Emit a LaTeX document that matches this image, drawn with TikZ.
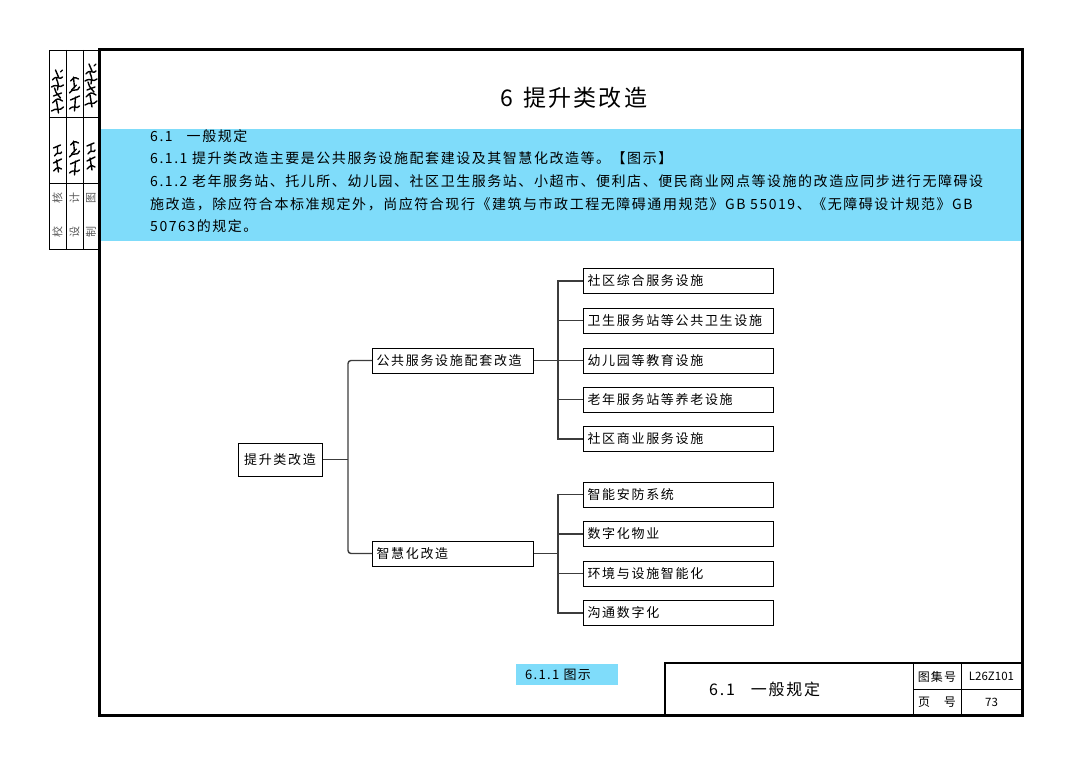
\documentclass[tikz,border=0pt]{standalone}
\usepackage{fontspec}
\setmainfont{Noto Sans CJK SC}
\newfontfamily\cjkband[LetterSpace=11]{Noto Sans CJK SC}
\newfontfamily\cjkbox[LetterSpace=13]{Noto Sans CJK SC}
\newfontfamily\cjktitle[LetterSpace=9]{Noto Sans CJK SC}
\newfontfamily\cjksmall[LetterSpace=10]{Noto Sans CJK SC}
\definecolor{bandblue}{RGB}{127,220,250}
\definecolor{linegray}{RGB}{60,60,60}
\definecolor{labelgray}{RGB}{90,90,90}
\tikzset{
  bandtext/.style={anchor=west, inner sep=0pt, text=black, font=\cjkband\fontsize{14}{16}\selectfont},
  leaf/.style={draw, line width=1pt, anchor=west, minimum width=190pt, minimum height=25pt,
    text width=182pt, align=left, inner xsep=4pt, inner ysep=0pt, font=\cjkbox\fontsize{13}{15}\selectfont},
  midbox/.style={draw, line width=1pt, anchor=west, minimum width=161pt, minimum height=25pt,
    text width=153pt, align=left, inner xsep=4pt, inner ysep=0pt, font=\cjkbox\fontsize{13}{15}\selectfont},
  rootbox/.style={draw, line width=1pt, minimum width=84pt, minimum height=33pt, inner sep=0pt,
    font=\cjkbox\fontsize{13}{15}\selectfont},
  conn/.style={draw=linegray, line width=1.4pt},
  gridline/.style={draw=black, line width=0.8pt},
  sidelabel/.style={rotate=90, inner sep=0pt, text=labelgray, font=\cjksmall\fontsize{11}{12}\selectfont},
  tbtext/.style={inner sep=0pt, font=\cjksmall\fontsize{12}{14}\selectfont},
  sig/.style={draw=black, line width=1.4pt, line cap=round, line join=round},
  sigA/.pic={
    \draw[sig] (-6,19) .. controls (-1,15) and (2,20) .. (6,15) (1,21) -- (-1,9)
      (-5,11) .. controls (0,6) .. (5,9) (-4,4) -- (4,1) (3,6) .. controls (-2,0) .. (-3,-4)
      (-6,-5) .. controls (0,-9) and (2,-3) .. (6,-7) (0,-2) .. controls (1,-8) .. (-1,-13)
      (-5,-12) .. controls (-1,-18) and (3,-11) .. (5,-15) (1,-15) -- (-2,-22) (3,-20) -- (5,-22);
  },
  sigB/.pic={
    \draw[sig] (-5,15) .. controls (0,10) and (2,16) .. (5,12) (0,17) -- (1,3) (-4,6) -- (5,2)
      (-5,-1) .. controls (-1,-7) and (3,-1) .. (5,-7) (-3,-4) -- (2,-9) (0,-6) -- (-1,-17)
      (-4,-13) .. controls (0,-17) .. (4,-15);
  },
  sigC/.pic={
    \draw[sig] (-4,11) .. controls (0,7) .. (4,9) (1,12) -- (-1,0) (-4,3) -- (4,-1)
      (-3,-4) .. controls (1,-10) and (3,-4) .. (4,-8) (0,-7) -- (0,-14) (-4,-12) -- (3,-15);
  }
}
\begin{document}
\begin{tikzpicture}[x=1pt,y=-1pt]
\useasboundingbox (0,0) rectangle (1080,765);
\fill[white] (0,0) rectangle (1080,765);

% blue band
\fill[bandblue] (100,129) rectangle (1021,241);

% left sign-off strip
\draw[gridline] (49,50) rectangle (99,249);
\draw[gridline] (66,50) -- (66,249) (83,50) -- (83,249);
\draw[gridline] (49,117) -- (99,117) (49,183) -- (99,183);
\pic at (57.5,92) {sigA};
\pic at (74.5,94) {sigB};
\pic at (91,86) {sigA};
\pic at (57.5,160) {sigC};
\pic at (74.5,158) {sigB};
\pic at (91,158) {sigC};
\node[sidelabel] (s1a) at (57.5,232) {校};
\node[sidelabel] (s1b) at (57.5,198) {核};
\node[sidelabel] (s2a) at (74.5,232) {设};
\node[sidelabel] (s2b) at (74.5,198) {计};
\node[sidelabel] (s3a) at (91,232) {制};
\node[sidelabel] (s3b) at (91,198) {图};

% main frame
\draw[line width=3pt] (99.5,49.5) rectangle (1022,715);

% title
\node[inner sep=0pt, font=\cjktitle\fontsize{23}{26}\selectfont] (title) at (574,98) {6\hspace{10pt}提升类改造};

% band text
\node[bandtext] (t1) at (150,136) {6.1\hspace{14pt}一般规定};
\node[bandtext] (t2) at (150,158) {6.1.1 提升类改造主要是公共服务设施配套建设及其智慧化改造等。【图示】};
\node[bandtext] (t3) at (150,181) {6.1.2 老年服务站、托儿所、幼儿园、社区卫生服务站、小超市、便利店、便民商业网点等设施的改造应同步进行无障碍设};
\node[bandtext] (t4) at (150,204) {施改造，除应符合本标准规定外，尚应符合现行《建筑与市政工程无障碍通用规范》GB 55019、《无障碍设计规范》GB};
\node[bandtext] (t5) at (150,226) {50763的规定。};

% tree
\node[rootbox] (root) at (280,459.5) {提升类改造};
\node[midbox] (m1) at (372,360.5) {公共服务设施配套改造};
\node[midbox] (m2) at (372,553.5) {智慧化改造};

\node[leaf] (a1) at (583,281) {社区综合服务设施};
\node[leaf] (a2) at (583,320.5) {卫生服务站等公共卫生设施};
\node[leaf] (a3) at (583,360.5) {幼儿园等教育设施};
\node[leaf] (a4) at (583,399.5) {老年服务站等养老设施};
\node[leaf] (a5) at (583,439) {社区商业服务设施};

\node[leaf] (b1) at (583,494.5) {智能安防系统};
\node[leaf] (b2) at (583,534) {数字化物业};
\node[leaf] (b3) at (583,573.5) {环境与设施智能化};
\node[leaf] (b4) at (583,613) {沟通数字化};

\coordinate (bus0) at (348,0);
\coordinate (bus1) at (558,0);

\draw[conn] (root.east) -- (root.east -| bus0);
\draw[conn, rounded corners=3pt] (m1.west) -- (m1.west -| bus0) -- (m2.west -| bus0) -- (m2.west);

\draw[conn] (m1.east) -- (m1.east -| bus1);
\draw[conn] (a1.west) -- (a1.west -| bus1) -- (a5.west -| bus1) -- (a5.west);
\foreach \n in {a2,a3,a4} \draw[conn] (\n.west) -- (\n.west -| bus1);

\draw[conn] (m2.east) -- (m2.east -| bus1);
\draw[conn] (b1.west) -- (b1.west -| bus1) -- (b4.west -| bus1) -- (b4.west);
\foreach \n in {b2,b3} \draw[conn] (\n.west) -- (\n.west -| bus1);

% figure caption
\node[fill=bandblue, anchor=west, minimum width=102pt, minimum height=21pt, inner xsep=9pt, inner ysep=0pt,
  text width=84pt, align=left, font=\cjksmall\fontsize{13}{15}\selectfont] (cap) at (516,674.5) {6.1.1 图示};

% title block
\draw[line width=1.4pt] (665,715) -- (665,663) -- (1022,663);
\draw[gridline] (913,663) -- (913,715) (961,663) -- (961,715) (913,689) -- (1022,689);
\node[inner sep=0pt, anchor=west, font=\cjkband\fontsize{16}{18}\selectfont] (tbmain) at (709,689) {6.1\hspace{16pt}一般规定};
\node[tbtext] (tb1) at (937,676.5) {图集号};
\node[tbtext] (tb2) at (937,702) {页\hspace{14pt}号};
\node[inner sep=0pt, font=\fontsize{11.5}{13}\selectfont] (tb3) at (991.5,676.5) {L26Z101};
\node[inner sep=0pt, font=\fontsize{11.5}{13}\selectfont] (tb4) at (991.5,702) {73};
\end{tikzpicture}
\end{document}
